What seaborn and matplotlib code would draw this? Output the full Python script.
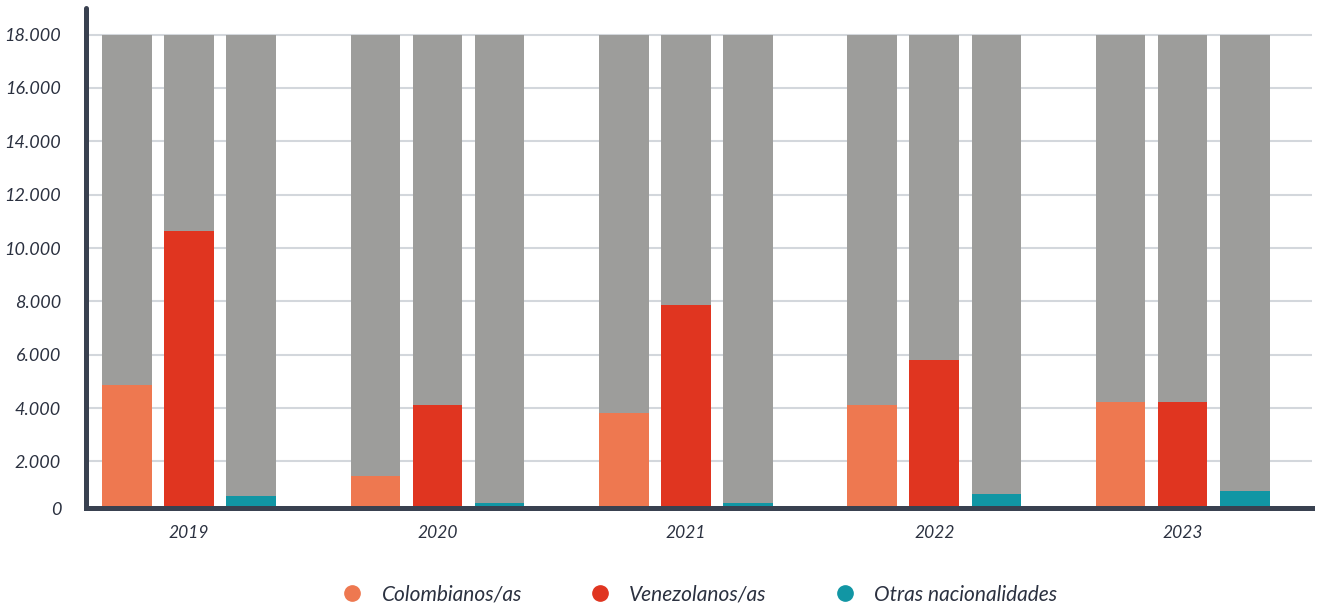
import pandas as pd
import matplotlib.pyplot as plt
import seaborn as sns
from matplotlib.lines import Line2D

years = ['2019', '2020', '2021', '2022', '2023']
grupos = ['Colombianos/as', 'Venezolanos/as', 'Otras nacionalidades']
colombianos = [4870, 1450, 3815, 4115, 4230]
venezolanos = [10650, 4120, 7870, 5800, 4230]
otras = [700, 435, 435, 790, 900]
total_fondo = 18000
yticks = [0, 2000, 4000, 6000, 8000, 10000, 12000, 14000, 16000, 18000]
ytick_labels = ['0', '2.000', '4.000', '6.000', '8.000', '10.000', '12.000', '14.000', '16.000', '18.000']

colores = ['#ee7850', '#e03520', '#1196a4']
gris = '#9d9d9b'
oscuro = '#394150'

rows = []
for i, y in enumerate(years):
    for g, vals in zip(grupos, [colombianos, venezolanos, otras]):
        rows.append({'Año': y, 'Grupo': g, 'Valor': vals[i], 'Fondo': total_fondo})
df = pd.DataFrame(rows)

sns.set_style('white')
plt.rcParams['font.family'] = ['Lato', 'DejaVu Sans']

fig = plt.figure(figsize=(13.25, 6.1), dpi=100)
ax = fig.add_axes([0.065, 0.167, 0.925, 0.82])

ax.set_axisbelow(True)
ax.yaxis.grid(True, color='#d3d7dc', linewidth=1.5)

# barras grises de fondo
sns.barplot(data=df, x='Año', y='Fondo', hue='Grupo', palette=[gris] * 3,
            width=0.75, gap=0.2, ax=ax, legend=False, errorbar=None,
            saturation=1, linewidth=0)
sns.barplot(data=df, x='Año', y='Valor', hue='Grupo', palette=colores,
            width=0.75, gap=0.2, ax=ax, legend=False, errorbar=None,
            saturation=1, linewidth=0)

# eje inferior un poco por encima del cero, como en el original
ax.set_ylim(250, 19000)
ax.set_xlim(-0.415, 4.52)
tick_pos = [250] + yticks[1:]
ax.set_yticks(tick_pos)
ax.set_yticklabels(ytick_labels)
ax.tick_params(axis='y', length=0, pad=18, labelsize=13, labelcolor='#2b3140')
ax.tick_params(axis='x', length=0, pad=12, labelsize=12.5, labelcolor='#2b3140')
for lbl in ax.get_yticklabels() + ax.get_xticklabels():
    lbl.set_fontstyle('italic')

ax.set_xlabel('')
ax.set_ylabel('')
for s in ['top', 'right']:
    ax.spines[s].set_visible(False)
ax.spines['left'].set_color(oscuro)
ax.spines['left'].set_linewidth(3.6)
ax.spines['left'].set_capstyle('round')
ax.spines['bottom'].set_color(oscuro)
ax.spines['bottom'].set_linewidth(3.6)

handles = [Line2D([0], [0], marker='o', linestyle='', markersize=11,
                  markerfacecolor=c, markeredgecolor=c) for c in colores]
leg = fig.legend(handles, grupos, loc='center', bbox_to_anchor=(0.524, 0.025),
                 ncol=3, frameon=False, columnspacing=2.75, handletextpad=0.4,
                 prop={'style': 'italic', 'size': 15})
for t in leg.get_texts():
    t.set_color('#2b3140')

fig.savefig('out.png', dpi=100)
